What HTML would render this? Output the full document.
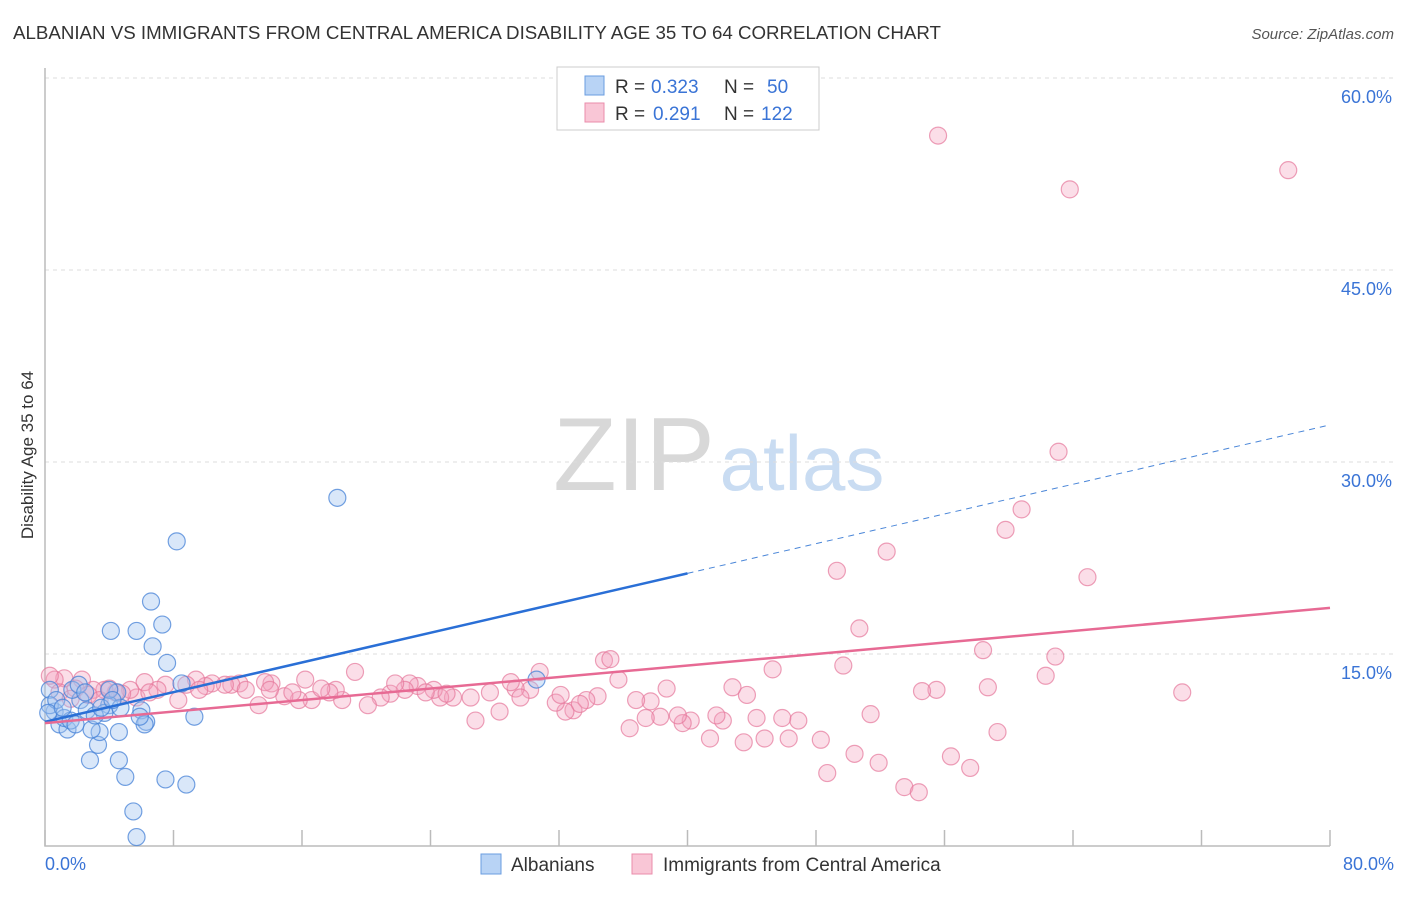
<!DOCTYPE html>
<html><head><meta charset="utf-8"><style>
body{margin:0;background:#fff;font-family:"Liberation Sans",sans-serif}
svg text{font-family:"Liberation Sans",sans-serif}
</style></head><body>
<svg width="1406" height="892" xmlns="http://www.w3.org/2000/svg" id="c">
<text x="13" y="39" font-size="18" fill="#333" textLength="928" lengthAdjust="spacingAndGlyphs">ALBANIAN VS IMMIGRANTS FROM CENTRAL AMERICA DISABILITY AGE 35 TO 64 CORRELATION CHART</text>
<text x="1394" y="39" font-size="15" fill="#555" font-style="italic" text-anchor="end">Source: ZipAtlas.com</text>
<text transform="translate(33,455) rotate(-90)" font-size="17" fill="#333" text-anchor="middle">Disability Age 35 to 64</text>
<g><text x="634" y="490" font-size="104" fill="#d8d8d8" font-family="Liberation Serif" text-anchor="middle">ZIP</text><text x="802" y="490" font-size="78" fill="#c9dcf2" text-anchor="middle">atlas</text></g>
<g id="grid"></g><g id="pts"></g><g id="lines"></g>
<g>
<rect x="557" y="67" width="262" height="63" fill="#fff" stroke="#ccc"/>
<rect x="585" y="76" width="19" height="19" fill="#b8d3f5" stroke="#6a9de0"/>
<rect x="585" y="103" width="19" height="19" fill="#f9c6d6" stroke="#ea8cab"/>
<text x="615" y="93" font-size="19" fill="#333">R =</text><text x="651" y="93" font-size="19" fill="#3a74d6">0.323</text>
<text x="724" y="93" font-size="19" fill="#333">N =</text><text x="767" y="93" font-size="19" fill="#3a74d6">50</text>
<text x="615" y="120" font-size="19" fill="#333">R =</text><text x="653" y="120" font-size="19" fill="#3a74d6">0.291</text>
<text x="724" y="120" font-size="19" fill="#333">N =</text><text x="761" y="120" font-size="19" fill="#3a74d6">122</text>
</g>
<g>
<rect x="481" y="854" width="20" height="20" fill="#b8d3f5" stroke="#6a9de0"/>
<text x="511" y="871" font-size="19" fill="#333">Albanians</text>
<rect x="632" y="854" width="20" height="20" fill="#f9c6d6" stroke="#ea8cab"/>
<text x="663" y="871" font-size="19" fill="#333">Immigrants from Central America</text>
</g>
</svg>
<script>
const yTicks=[15,30,45,60];
const xTickLabels=["0.0%","80.0%"];
const blueX=[18.2,8.2,6.6,4.1,5.7,7.3,6.7,7.6,30.6,8.5,9.3,6.3,6.0,4.5,4.0,3.7,2.2,1.7,0.3,0.6,0.9,1.4,3.3,2.8,4.6,5.0,7.5,8.8,5.5,5.7,4.6,3.4,2.9,1.2,2.6,4.0,2.1,0.3,0.7,3.1,6.2,1.6,0.2,4.7,5.9,1.1,2.5,3.5,1.9,4.2];
const blueY=[27.2,23.8,19.1,16.8,16.8,17.3,15.6,14.3,13.0,12.7,10.1,9.7,10.6,12.0,11.0,10.4,11.4,12.2,12.2,10.5,9.5,9.1,7.9,6.7,6.7,5.4,5.2,4.8,2.7,0.7,8.9,8.9,9.1,10.0,10.6,12.2,12.6,11.0,11.4,10.2,9.5,9.8,10.4,10.8,10.1,10.8,12.0,10.8,9.5,11.4];
const pinkX=[55.6,77.4,63.8,63.1,60.8,59.8,52.4,49.3,64.9,50.7,58.4,62.9,49.7,45.3,62.3,55.5,54.6,58.7,70.8,51.4,59.3,48.7,50.4,51.9,53.5,54.4,56.4,57.6,48.3,46.3,44.8,43.5,41.4,46.9,45.9,44.3,42.2,41.8,40.2,39.7,39.4,43.7,42.8,38.7,37.7,36.8,38.3,37.4,36.4,35.7,34.8,35.2,34.4,33.7,32.9,32.4,31.8,30.8,30.2,29.3,29.0,28.3,27.7,26.8,26.5,25.4,24.6,24.2,23.2,22.7,22.4,21.5,20.9,20.1,19.3,18.5,18.1,17.7,16.6,16.2,15.8,14.9,14.1,13.7,13.3,12.1,11.6,11.2,10.4,10.0,9.4,8.8,8.3,7.5,7.0,6.2,5.7,5.3,4.8,4.4,3.7,3.0,2.3,1.9,1.2,0.6,0.3,0.9,2.7,3.4,33.3,29.6,25.0,21.8,15.4,14.0,6.5,4.0,1.6,9.6,12.5,17.2,23.7,32.1];
const pinkY=[55.5,52.8,51.3,30.8,26.3,24.7,23.0,21.5,21.0,17.0,15.3,14.8,14.1,13.8,13.3,12.2,12.1,12.4,12.0,10.3,8.9,5.7,7.2,6.5,4.6,4.2,7.0,6.1,8.3,8.4,8.4,8.1,8.4,9.8,10.0,10.0,9.8,10.2,9.8,9.6,10.2,11.8,12.4,12.3,11.3,11.4,10.1,10.0,9.2,13.0,14.5,14.6,11.7,11.4,10.6,10.5,11.2,13.6,12.2,12.3,12.8,10.5,12.0,9.8,11.6,11.6,11.6,12.2,12.5,12.7,12.2,11.9,11.6,11.0,13.6,11.4,12.2,12.0,11.4,13.0,11.4,11.7,12.7,12.8,11.0,12.7,12.6,12.6,12.7,12.5,13.0,12.6,11.4,12.6,12.2,12.8,11.6,12.2,11.9,12.0,12.2,12.2,13.0,12.3,13.1,13.0,13.3,12.0,11.8,11.4,11.1,11.6,11.9,12.7,12.0,12.2,12.0,12.3,11.5,12.2,12.2,12.3,12.0,11.8];
const blueTrend=[9.7,0.29];
const pinkTrend=[9.6,0.1125];
const sx=v=>45+v/80*1285, sy=v=>846-v*12.8;
const NS="http://www.w3.org/2000/svg";
function mk(t,a,p){const e=document.createElementNS(NS,t);for(const k in a)e.setAttribute(k,a[k]);p.appendChild(e);return e;}
const g=document.getElementById('grid');
yTicks.forEach(v=>{
 const l=mk('line',{x1:45,x2:1394,y1:sy(v),y2:sy(v),stroke:'#ddd','stroke-dasharray':'4,4'},g);
 
 
 const t=mk('text',{x:1392,y:sy(v)+25,'font-size':18,fill:'#3a74d6','text-anchor':'end'},g);t.textContent=v.toFixed(1)+'%';
 
 
});
const ax=mk('path',{d:'M45,68V846H1330',fill:'none',stroke:'#bbb','stroke-width':1.5},g);


for(let i=0;i<=10;i++){const l=mk('line',{x1:sx(i*8),x2:sx(i*8),y1:830,y2:846,stroke:'#bbb','stroke-width':1.5},g);
 
 }
[[0,'start',45],[1,'end',1394]].forEach(([i,a,x])=>{const t=mk('text',{x:x,y:870,'font-size':18,fill:'#3a74d6','text-anchor':a},g);t.textContent=xTickLabels[i];
 
 });
const p=document.getElementById('pts');
pinkX.forEach((x,i)=>{const c=mk('circle',{cx:sx(x),cy:sy(pinkY[i]),r:8.5,fill:'rgba(244,160,188,0.35)',stroke:'rgba(230,120,155,0.7)','stroke-width':1.2},p);
 
 });
blueX.forEach((x,i)=>{const c=mk('circle',{cx:sx(x),cy:sy(blueY[i]),r:8.5,fill:'rgba(160,195,240,0.4)',stroke:'rgba(70,130,215,0.75)','stroke-width':1.2},p);
 
 });
const L=document.getElementById('lines');
const bt=x=>blueTrend[0]+blueTrend[1]*x, pt=x=>pinkTrend[0]+pinkTrend[1]*x;
let e=mk('line',{x1:sx(0),y1:sy(bt(0)),x2:sx(40),y2:sy(bt(40)),stroke:'#2a6fd6','stroke-width':2.5},L);


e=mk('line',{x1:sx(40),y1:sy(bt(40)),x2:sx(80),y2:sy(bt(80)),stroke:'#4a86d8','stroke-width':1,'stroke-dasharray':'6,5'},L);


e=mk('line',{x1:sx(0),y1:sy(pt(0)),x2:sx(80),y2:sy(pt(80)),stroke:'#e76a94','stroke-width':2.5},L);


</script>
</body></html>
